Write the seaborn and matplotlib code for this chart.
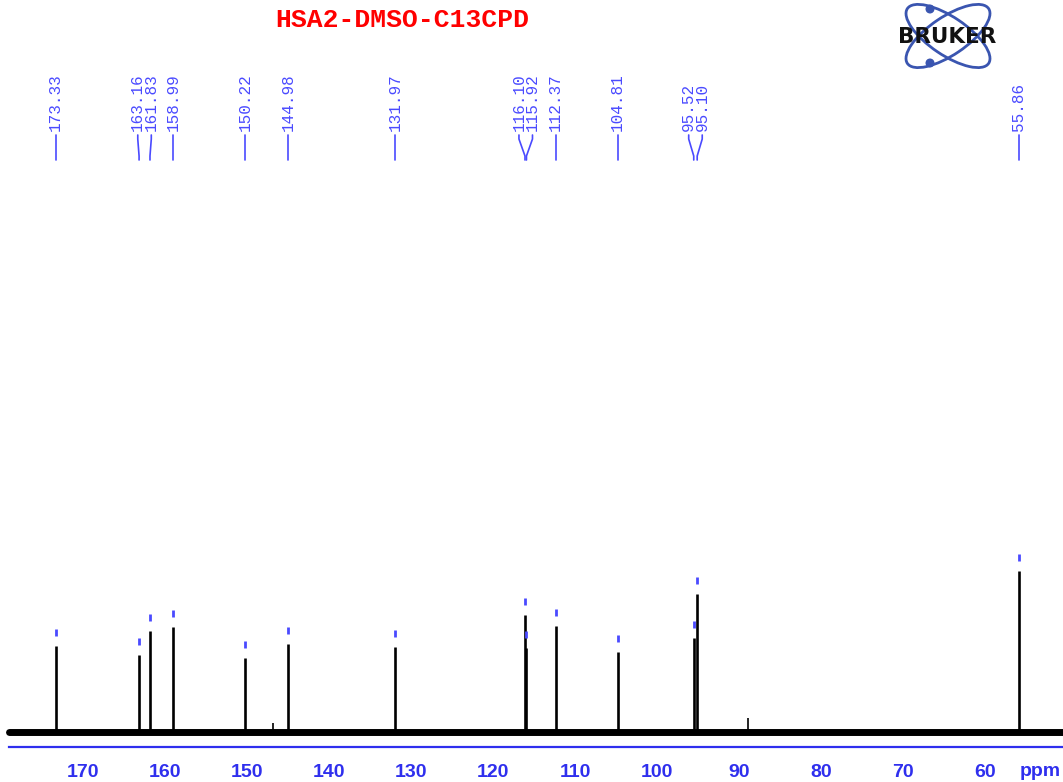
import numpy as np
import pandas as pd
import seaborn as sns
import matplotlib.pyplot as plt
from matplotlib.patches import Ellipse, Circle
from matplotlib.ticker import FixedLocator

# picked peaks (ppm) and their heights (arbitrary units)
peak_ppm = [173.33, 163.16, 161.83, 158.99, 150.22, 144.98, 131.97,
            116.10, 115.92, 112.37, 104.81, 95.52, 95.10, 55.86]
peak_height = [86, 77, 101, 105, 74, 88, 85, 117, 84, 106, 80, 94, 138, 161]

# small unpicked peaks
minor_ppm = [146.8, 88.9]
minor_height = [9, 14]

ppm_range = [179.0, 50.5]
x_ticks = list(range(60, 180, 10))

title = 'HSA2-DMSO-C13CPD'
axis_blue = '#2f2fee'
label_blue = '#4a4aff'
logo_blue = '#3a55b0'

sns.set_style('white')
plt.rcParams['font.family'] = ['Liberation Sans', 'DejaVu Sans']

W, H = 1063, 782
fig = plt.figure(figsize=(W / 100, H / 100), dpi=100)
ax = fig.add_axes([0, 35 / H, 1, 747 / H])

# baseline (drawn thick to look like the noise band)
base = pd.DataFrame({'ppm': ppm_range, 'y': [0, 0]})
sns.lineplot(data=base, x='ppm', y='y', color='black', lw=5, ax=ax)

ax.vlines(peak_ppm, 0, peak_height, color='black', lw=1.9)
ax.vlines(minor_ppm, 0, minor_height, color='black', lw=1.2)

# little blue marks over each picked peak
h = np.array(peak_height)
ax.vlines(peak_ppm, h + 10, h + 17, color=label_blue, lw=2)


def spread(pos, gap):
    groups = [[0]]
    for i in range(1, len(pos)):
        if pos[groups[-1][-1]] - pos[i] < gap:
            groups[-1].append(i)
        else:
            groups.append([i])
    out = [0.0] * len(pos)
    for g in groups:
        c = np.mean([pos[i] for i in g])
        n = len(g)
        for k, i in enumerate(g):
            out[i] = c + (n - 1) / 2 * gap - k * gap
    return out


label_x = spread(peak_ppm, 1.65)
for p, lx in zip(peak_ppm, label_x):
    ax.plot([lx, lx, p, p], [597, 593, 576, 572], color=label_blue, lw=1.2)
    ax.text(lx, 601, f'{p:.2f}', rotation=90, ha='center', va='bottom',
            family='Liberation Mono', fontsize=11.5, color=label_blue)

ax.set_xlim(180.12, 50.49)
ax.set_ylim(-15, 732)
ax.set_xlabel('')
ax.set_ylabel('')
ax.set_yticks([])

for s in ['top', 'left', 'right']:
    ax.spines[s].set_visible(False)
ax.spines['bottom'].set_color(axis_blue)
ax.spines['bottom'].set_linewidth(1.6)
ax.spines['bottom'].set_bounds(ppm_range[0], 50.49)

ax.set_xticks(x_ticks)
ax.xaxis.set_minor_locator(FixedLocator(list(range(51, 179))))
ax.tick_params(axis='x', which='major', direction='out', length=6, width=1.5,
               color=axis_blue, labelcolor=axis_blue, labelsize=14, pad=6)
ax.tick_params(axis='x', which='minor', direction='out', length=2.2, width=1,
               color=axis_blue)
for t in ax.get_xticklabels():
    t.set_fontweight('bold')

fig.text(1040 / W, 1 - 772 / H, 'ppm', ha='center', va='center',
         fontsize=14, fontweight='bold', color=axis_blue)

fig.text(402 / W, 1 - 20 / H, title, ha='center', va='center',
         family='Liberation Mono', fontweight='bold', fontsize=19, color='red')

# logo drawn in pixel coordinates
lg = fig.add_axes([0, 0, 1, 1])
lg.set_xlim(0, W)
lg.set_ylim(H, 0)
lg.axis('off')
for ang in (34, -34):
    lg.add_patch(Ellipse((948, 36), 98, 38, angle=ang, fill=False,
                         ec=logo_blue, lw=2))
lg.add_patch(Circle((930, 9), 3.8, color=logo_blue))
lg.add_patch(Circle((930, 63), 3.8, color=logo_blue))
lg.text(947, 37, 'BRUKER', ha='center', va='center', fontsize=15.5,
        fontweight='heavy', color='#111111', family='DejaVu Sans')

fig.savefig('out.png', dpi=100)
